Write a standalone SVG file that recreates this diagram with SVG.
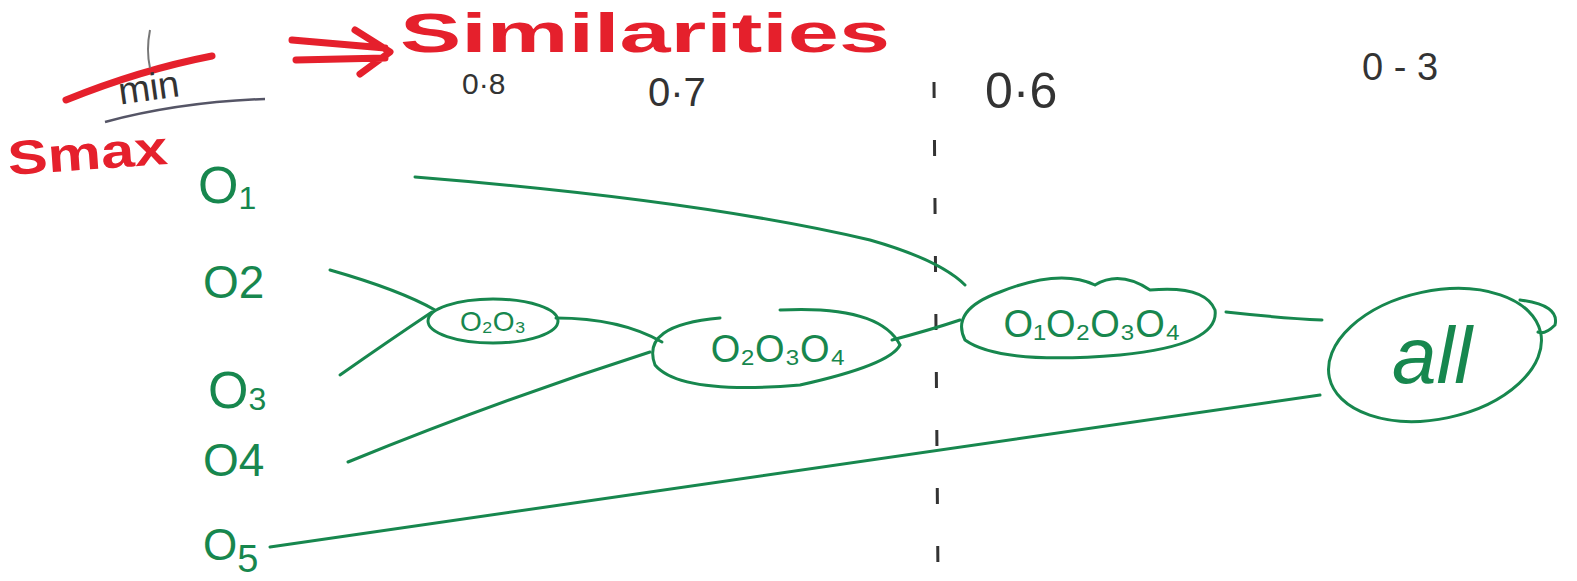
<svg xmlns="http://www.w3.org/2000/svg" width="1577" height="581" viewBox="0 0 1577 581">
<style>
.g{fill:none;stroke:#17874e;stroke-width:3;stroke-linecap:round}
.gt{fill:#17874e;font-family:"Liberation Sans",sans-serif}
.k{fill:#333;font-family:"Liberation Sans",sans-serif}
.r{fill:#e5202c;font-family:"Liberation Sans",sans-serif;font-weight:bold}
.rs{fill:none;stroke:#e5202c;stroke-width:7;stroke-linecap:round;stroke-linejoin:round}
</style>
<rect width="1577" height="581" fill="#fff"/>
<g id="header">
<text class="r" x="8" y="170" font-size="48" textLength="160" lengthAdjust="spacingAndGlyphs" transform="rotate(-4 80 160)">Smax</text>
<path class="rs" d="M66 100 Q140 70 212 56"/>
<path d="M150 30 Q146 50 150 68" fill="none" stroke="#777" stroke-width="2"/>
<text class="k" x="118" y="96" font-size="38" fill="#556" transform="rotate(-8 180 85)">min</text>
<path d="M105 122 Q180 102 265 99" fill="none" stroke="#556" stroke-width="2.5"/>
<path class="rs" d="M292 40 L385 48 M296 60 L385 58 M355 30 L390 52 L360 74"/>
<text class="r" x="400" y="52" font-size="56" textLength="490" lengthAdjust="spacingAndGlyphs">Similarities</text>
<text class="k" x="462" y="94" font-size="30">0·8</text>
<text class="k" x="648" y="106" font-size="40">0·7</text>
<text class="k" x="985" y="108" font-size="50">0·6</text>
<text class="k" x="1362" y="80" font-size="38">0 - 3</text>
</g>
<g id="connectors">
<path d="M934 82 L938 578" fill="none" stroke="#333" stroke-width="3" stroke-dasharray="16 42"/>
<path class="g" d="M415 177 Q700 200 870 240 Q940 260 965 285"/>
<path class="g" d="M330 270 Q400 290 435 310"/>
<path class="g" d="M340 375 Q390 340 432 312"/>
<path class="g" d="M556 318 Q620 318 662 342"/>
<path class="g" d="M348 462 Q500 400 650 352"/>
<path class="g" d="M892 340 Q930 330 960 320"/>
<path class="g" d="M1226 312 Q1280 318 1322 320"/>
<path class="g" d="M270 547 Q800 470 1320 395"/>
</g>
<g id="O1"><text class="gt" x="198" y="203" font-size="52">O<tspan font-size="32" dy="6">1</tspan></text></g>
<g id="O2"><text class="gt" x="203" y="298" font-size="46">O2</text></g>
<g id="O3"><text class="gt" x="208" y="408" font-size="52">O<tspan font-size="32" dy="2">3</tspan></text></g>
<g id="O4"><text class="gt" x="203" y="476" font-size="46">O4</text></g>
<g id="O5"><text class="gt" x="203" y="560" font-size="44">O<tspan font-size="38" dy="12">5</tspan></text></g>
<g id="O2O3"><ellipse class="g" cx="493" cy="321" rx="65" ry="22"/><text class="gt" x="493" y="331" font-size="28" text-anchor="middle">O₂O₃</text></g>
<g id="O2O3O4"><path class="g" d="M720 318 Q640 325 655 365 Q680 395 800 385 Q890 365 900 345 Q880 305 780 310"/><text class="gt" x="778" y="362" font-size="38" text-anchor="middle">O₂O₃O₄</text></g>
<g id="O1O2O3O4"><path class="g" d="M1000 292 Q950 310 965 340 Q1000 365 1120 355 Q1220 345 1215 310 Q1205 285 1150 290 Q1120 270 1095 285 Q1060 268 1000 292"/><text class="gt" x="1092" y="337" font-size="38" text-anchor="middle">O₁O₂O₃O₄</text></g>
<g id="all"><ellipse class="g" cx="1435" cy="355" rx="108" ry="64" transform="rotate(-12 1435 355)"/><path class="g" d="M1520 300 Q1560 305 1555 325 Q1545 335 1538 332"/><text class="gt" x="1432" y="383" font-size="80" text-anchor="middle" font-style="italic">all</text></g>
</svg>
